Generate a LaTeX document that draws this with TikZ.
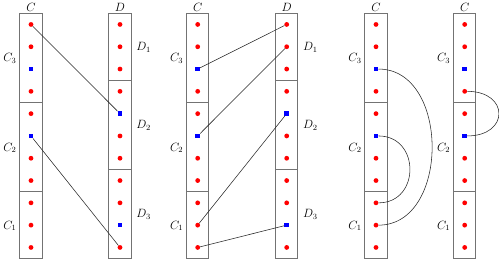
\documentclass[tikz,border=0pt]{standalone}
\tikzset{
  rdot/.style={circle, fill=red, inner sep=0pt, minimum size=4.8pt},
  bsq/.style={rectangle, fill=blue, inner sep=0pt, minimum size=4.6pt},
  colbox/.style={draw=black!55, line width=0.9pt},
  link/.style={draw=black!85, line width=0.55pt},
  lbl/.style={inner sep=0pt, font=\large}
}
% #1 prefix, #2 x centre, #3 blue slots, #4 divider positions (in slots)
\newcommand\mycolumn[4]{%
  \draw[colbox] (#2-11.15,13.3) rectangle (#2+11.15,258.6);
  \foreach \d in {#4}{\draw[colbox] (#2-11.15,{13.3+22.3*\d}) -- (#2+11.15,{13.3+22.3*\d});}
  \foreach \i in {0,...,10}{%
    \gdef\isblue{0}%
    \foreach \b in {#3}{\ifnum\i=\b\relax\gdef\isblue{1}\fi}%
    \ifnum\isblue=1
      \node[bsq] (#1\i) at (#2,{24.45+22.3*\i}) {};
    \else
      \node[rdot] (#1\i) at (#2,{24.45+22.3*\i}) {};
    \fi
  }%
}
\newcommand\clabels[1]{%
  \node[lbl, anchor=base east] (cl3#1) at (#1-14.3,62) {$C_3$};
  \node[lbl, anchor=base east] (cl2#1) at (#1-14.3,151.2) {$C_2$};
  \node[lbl, anchor=base east] (cl1#1) at (#1-14.3,229.2) {$C_1$};
}
\newcommand\dlabels[1]{%
  \node[lbl, anchor=base west] (dl1#1) at (#1+16.2,50.7) {$D_1$};
  \node[lbl, anchor=base west] (dl2#1) at (#1+16.2,128.3) {$D_2$};
  \node[lbl, anchor=base west] (dl3#1) at (#1+16.2,217.5) {$D_3$};
}
\begin{document}
\begin{tikzpicture}[x=1pt,y=-1pt]
\useasboundingbox (0,0) rectangle (499,259);
% panel 1
\mycolumn{a}{31}{2,5}{4,8}
\mycolumn{b}{120}{4,9}{3,7}
\node[lbl, anchor=base] (ta) at (31,11.5) {$C$};
\node[lbl, anchor=base] (tb) at (120,11.5) {$D$};
\clabels{31}
\dlabels{120}
\draw[link] (a0) -- (b4);
\draw[link] (a5) -- (b10);
% panel 2
\mycolumn{c}{197.7}{2,5}{4,8}
\mycolumn{d}{286.7}{4,9}{3,7}
\node[lbl, anchor=base] (tc) at (197.7,11.5) {$C$};
\node[lbl, anchor=base] (td) at (286.7,11.5) {$D$};
\clabels{197.7}
\dlabels{286.7}
\draw[link] (c2) -- (d0);
\draw[link] (c5) -- (d1);
\draw[link] (c9) -- (d4);
\draw[link] (c10) -- (d9);
% panel 3
\mycolumn{e}{376}{2,5}{4,8}
\node[lbl, anchor=base] (te) at (376,11.5) {$C$};
\clabels{376}
\draw[link] (e2) .. controls +(74,0) and +(74,0) .. (e9);
\draw[link] (e5) .. controls +(44.4,0) and +(44.4,0) .. (e8);
% panel 4
\mycolumn{f}{464.7}{2,5}{4,8}
\node[lbl, anchor=base] (tf) at (464.7,11.5) {$C$};
\clabels{464.7}
\draw[link] (f3) .. controls +(44.8,0) and +(44.8,0) .. (f5);
\end{tikzpicture}
\end{document}
